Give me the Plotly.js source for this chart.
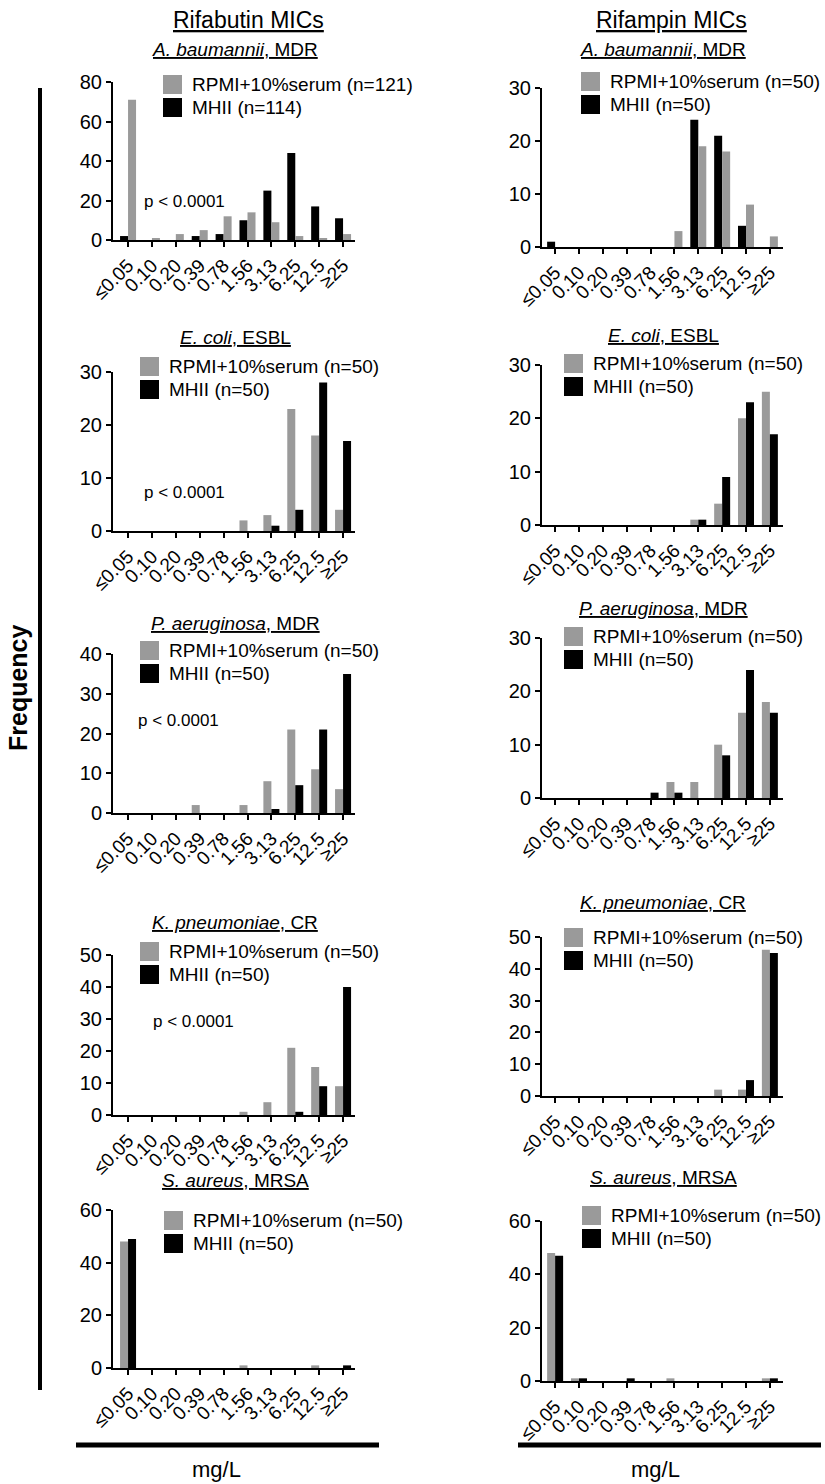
<!DOCTYPE html>
<html><head><meta charset="utf-8">
<script src="https://cdn.plot.ly/plotly-3.0.1.min.js"></script>
<style>html,body{margin:0;padding:0;background:#fff}#chart{width:825px;height:1484px}</style>
</head><body><div id="chart"></div>
<script>
// ---------- DATA ----------
const categories = ["≤0.05","0.10","0.20","0.39","0.78","1.56","3.13","6.25","12.5","≥25"];

// Rifabutin MICs
const rfbAbauRPMI  = [71,1,3,5,12,14,9,2,1,3];
const rfbAbauMHII  = [2,0,0,2,3,10,25,44,17,11];
const rfbEcoliRPMI = [0,0,0,0,0,2,3,23,18,4];
const rfbEcoliMHII = [0,0,0,0,0,0,1,4,28,17];
const rfbPaerRPMI  = [0,0,0,2,0,2,8,21,11,6];
const rfbPaerMHII  = [0,0,0,0,0,0,1,7,21,35];
const rfbKpnRPMI   = [0,0,0,0,0,1,4,21,15,9];
const rfbKpnMHII   = [0,0,0,0,0,0,0,1,9,40];
const rfbSaurRPMI  = [48,0,0,0,0,1,0,0,1,0];
const rfbSaurMHII  = [49,0,0,0,0,0,0,0,0,1];

// Rifampin MICs
const rifAbauRPMI  = [0,0,0,0,0,3,19,18,8,2];
const rifAbauMHII  = [1,0,0,0,0,0,24,21,4,0];
const rifEcoliRPMI = [0,0,0,0,0,0,1,4,20,25];
const rifEcoliMHII = [0,0,0,0,0,0,1,9,23,17];
const rifPaerRPMI  = [0,0,0,0,0,3,3,10,16,18];
const rifPaerMHII  = [0,0,0,0,1,1,0,8,24,16];
const rifKpnRPMI   = [0,0,0,0,0,0,0,2,2,46];
const rifKpnMHII   = [0,0,0,0,0,0,0,0,5,45];
const rifSaurRPMI  = [48,1,0,0,0,1,0,0,0,1];
const rifSaurMHII  = [47,1,0,1,0,0,0,0,0,1];

const columnTitles = ["Rifabutin MICs","Rifampin MICs"];
const panelTitles = ["<i>A. baumannii</i>, MDR","<i>E. coli</i>, ESBL","<i>P. aeruginosa</i>, MDR","<i>K. pneumoniae</i>, CR","<i>S. aureus</i>, MRSA"];
const rpmiLabelsRfb = ["RPMI+10%serum (n=121)","RPMI+10%serum (n=50)","RPMI+10%serum (n=50)","RPMI+10%serum (n=50)","RPMI+10%serum (n=50)"];
const mhiiLabelsRfb = ["MHII (n=114)","MHII (n=50)","MHII (n=50)","MHII (n=50)","MHII (n=50)"];
const rpmiLabelsRif = ["RPMI+10%serum (n=50)","RPMI+10%serum (n=50)","RPMI+10%serum (n=50)","RPMI+10%serum (n=50)","RPMI+10%serum (n=50)"];
const mhiiLabelsRif = ["MHII (n=50)","MHII (n=50)","MHII (n=50)","MHII (n=50)","MHII (n=50)"];
const pValueText = "p < 0.0001";
const yAxisTitle = "Frequency";
const xAxisTitle = "mg/L";

// ---------- LAYOUT ----------
const W = 825, H = 1484;
const px = x => x / W;
const py = y => 1 - y / H;
const FONT = '"Liberation Sans", Arial, Helvetica, sans-serif';
const GRAY = '#9a9a9a', BLACK = '#000000';

const rfbData = [[rfbAbauRPMI,rfbAbauMHII],[rfbEcoliRPMI,rfbEcoliMHII],[rfbPaerRPMI,rfbPaerMHII],[rfbKpnRPMI,rfbKpnMHII],[rfbSaurRPMI,rfbSaurMHII]];
const rifData = [[rifAbauRPMI,rifAbauMHII],[rifEcoliRPMI,rifEcoliMHII],[rifPaerRPMI,rifPaerMHII],[rifKpnRPMI,rifKpnMHII],[rifSaurRPMI,rifSaurMHII]];

// geometry per panel (pixels)
const colGeom = [
  {x0:113, x1:355, range:[-0.63, 9.5], titleX:235},
  {x0:542, x1:783, range:[-0.55, 9.55], titleX:663}
];
const rowGeom = [
  // left column
  [{top:82,bottom:240,titleY:50,ymax:80,dtick:20,blackFirst:true,legX:163,legY:75,p:[142,202]},
   {top:372,bottom:531,titleY:337,ymax:30,dtick:10,blackFirst:false,legX:140,legY:357,p:[142,493]},
   {top:654,bottom:813,titleY:623,ymax:40,dtick:10,blackFirst:false,legX:140,legY:641,p:[136,720]},
   {top:955,bottom:1115,titleY:922,ymax:50,dtick:10,blackFirst:false,legX:140,legY:942,p:[151,1022]},
   {top:1210,bottom:1368,titleY:1180,ymax:60,dtick:20,blackFirst:false,legX:164,legY:1211,p:null}],
  // right column
  [{top:88,bottom:247,titleY:50,ymax:30,dtick:10,blackFirst:true,legX:581,legY:72,p:null},
   {top:365,bottom:525,titleY:335,ymax:30,dtick:10,blackFirst:false,legX:564,legY:354,p:null},
   {top:638,bottom:798,titleY:608,ymax:30,dtick:10,blackFirst:false,legX:564,legY:627,p:null},
   {top:937,bottom:1096,titleY:902,ymax:50,dtick:10,blackFirst:false,legX:564,legY:928,p:null},
   {top:1221,bottom:1381,titleY:1177,ymax:60,dtick:20,blackFirst:false,legX:582,legY:1206,p:null}]
];

const traces = [];
const layout = {
  width: W, height: H,
  margin: {l:0, r:0, t:0, b:0},
  paper_bgcolor: '#ffffff', plot_bgcolor: 'rgba(0,0,0,0)',
  showlegend: false,
  barmode: 'group', bargap: 0.33, bargroupgap: 0,
  font: {family: FONT, color: '#000', size: 16},
  shapes: [], annotations: []
};

let idx = 0;
for (let c = 0; c < 2; c++) {
  const data = c === 0 ? rfbData : rifData;
  const rpmiLabels = c === 0 ? rpmiLabelsRfb : rpmiLabelsRif;
  const mhiiLabels = c === 0 ? mhiiLabelsRfb : mhiiLabelsRif;
  const cg = colGeom[c];
  for (let r = 0; r < 5; r++) {
    idx++;
    const g = rowGeom[c][r];
    const xa = idx === 1 ? 'x' : 'x' + idx;
    const ya = idx === 1 ? 'y' : 'y' + idx;
    const xk = idx === 1 ? 'xaxis' : 'xaxis' + idx;
    const yk = idx === 1 ? 'yaxis' : 'yaxis' + idx;
    const gTrace = {type:'bar', x: categories, y: data[r][0], xaxis: xa, yaxis: ya,
      marker:{color: GRAY, line:{width:0}}, name: rpmiLabels[r], hoverinfo:'x+y+name'};
    const bTrace = {type:'bar', x: categories, y: data[r][1], xaxis: xa, yaxis: ya,
      marker:{color: BLACK, line:{width:0}}, name: mhiiLabels[r], hoverinfo:'x+y+name'};
    if (g.blackFirst) { traces.push(bTrace, gTrace); } else { traces.push(gTrace, bTrace); }

    layout[xk] = {domain:[px(cg.x0), px(cg.x1)], anchor: ya, range: cg.range, type:'category',
      showline:true, linewidth:2, linecolor:'#000', ticks:'outside', ticklen:5, tickwidth:2, tickcolor:'#000',
      tickangle:-45, tickfont:{size:19, family:FONT}, showgrid:false, zeroline:false, fixedrange:true};
    layout[yk] = {domain:[py(g.bottom), py(g.top)], anchor: xa, range:[0, g.ymax], dtick: g.dtick,
      showline:true, linewidth:2, linecolor:'#000', ticks:'outside', ticklen:5, tickwidth:2, tickcolor:'#000',
      tickfont:{size:20, family:FONT}, showgrid:false, zeroline:false, fixedrange:true};

    // panel title
    layout.annotations.push({text:'<u>' + panelTitles[r] + '</u>', xref:'paper', yref:'paper',
      x:px(cg.titleX), y:py(g.titleY), xanchor:'center', yanchor:'middle', showarrow:false,
      font:{size:19, family:FONT}});
    // manual legend
    const sq = 19;
    layout.shapes.push({type:'rect', xref:'paper', yref:'paper', x0:px(g.legX), x1:px(g.legX+sq),
      y0:py(g.legY+sq), y1:py(g.legY), fillcolor:GRAY, line:{width:0}});
    layout.shapes.push({type:'rect', xref:'paper', yref:'paper', x0:px(g.legX), x1:px(g.legX+sq),
      y0:py(g.legY+23+sq), y1:py(g.legY+23), fillcolor:BLACK, line:{width:0}});
    layout.annotations.push({text: rpmiLabels[r], xref:'paper', yref:'paper', x:px(g.legX+27), y:py(g.legY+sq/2),
      xanchor:'left', yanchor:'middle', showarrow:false, font:{size:19, family:FONT}});
    layout.annotations.push({text: mhiiLabels[r], xref:'paper', yref:'paper', x:px(g.legX+27), y:py(g.legY+23+sq/2),
      xanchor:'left', yanchor:'middle', showarrow:false, font:{size:19, family:FONT}});
    if (g.p) {
      layout.annotations.push({text: pValueText, xref:'paper', yref:'paper', x:px(g.p[0]), y:py(g.p[1]),
        xanchor:'left', yanchor:'middle', showarrow:false, font:{size:17, family:FONT}});
    }
  }
}

// column titles
layout.annotations.push({text:'<u>' + columnTitles[0] + '</u>', xref:'paper', yref:'paper', x:px(248), y:py(20),
  xanchor:'center', yanchor:'middle', showarrow:false, font:{size:23, family:FONT}});
layout.annotations.push({text:'<u>' + columnTitles[1] + '</u>', xref:'paper', yref:'paper', x:px(671), y:py(20),
  xanchor:'center', yanchor:'middle', showarrow:false, font:{size:23, family:FONT}});
// Frequency
layout.annotations.push({text:'<b>' + yAxisTitle + '</b>', xref:'paper', yref:'paper', x:px(18), y:py(688),
  xanchor:'center', yanchor:'middle', textangle:-90, showarrow:false, font:{size:25, family:FONT}});
// mg/L
layout.annotations.push({text: xAxisTitle, xref:'paper', yref:'paper', x:px(216), y:py(1469),
  xanchor:'center', yanchor:'middle', showarrow:false, font:{size:22, family:FONT}});
layout.annotations.push({text: xAxisTitle, xref:'paper', yref:'paper', x:px(655), y:py(1469),
  xanchor:'center', yanchor:'middle', showarrow:false, font:{size:22, family:FONT}});
// decorative bracket lines
layout.shapes.push({type:'line', xref:'paper', yref:'paper', x0:px(40), x1:px(40), y0:py(88), y1:py(1390), line:{color:'#000', width:4}});
layout.shapes.push({type:'line', xref:'paper', yref:'paper', x0:px(76), x1:px(379), y0:py(1445), y1:py(1445), line:{color:'#000', width:5}});
layout.shapes.push({type:'line', xref:'paper', yref:'paper', x0:px(518), x1:px(821), y0:py(1445), y1:py(1445), line:{color:'#000', width:5}});

Plotly.newPlot('chart', traces, layout, {staticPlot:true, displayModeBar:false});
</script>
</body></html>
